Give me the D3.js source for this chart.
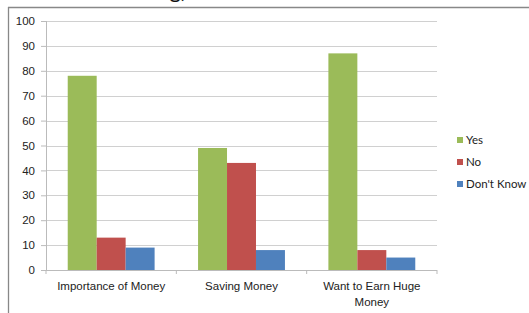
<!DOCTYPE html>
<html>
<head>
<meta charset="utf-8">
<script src="https://cdn.jsdelivr.net/npm/d3@7"></script>
<style>
  body { margin: 0; background: #fff; }
  svg { display: block; font-family: Lato, "Open Sans", sans-serif; }
  .axis text { font-size: 11.5px; fill: #222; }
  .axis path, .axis line { stroke: #bbb; }
</style>
</head>
<body>
<div id="chart"></div>
<script>
// data
var categories = ["Importance of Money", "Saving Money", "Want to Earn Huge Money"];
var seriesNames = ["Yes", "No", "Don't Know"];
var yesValues = [78, 49, 87];
var noValues = [13, 43, 8];
var dontKnowValues = [9, 8, 5];
var yTicks = [0, 10, 20, 30, 40, 50, 60, 70, 80, 90, 100];
var colors = ["#9BBB59", "#C0504D", "#4F81BD"];

var series = [yesValues, noValues, dontKnowValues];

var pwidth = 529, pheight = 313;
var margin = {top: 21, right: 92, bottom: 43, left: 46};
var width = 437 - margin.left,
    height = 270 - margin.top;

var svg = d3.select("#chart").append("svg")
  .attr("width", pwidth)
  .attr("height", pheight);

// cut off title remains and outer frame
svg.append("text")
  .attr("x", 172).attr("y", -2)
  .attr("text-anchor", "middle")
  .style("font-size", "22px")
  .attr("fill", "#111")
  .text("ng)");

svg.append("line")
  .attr("x1", 8).attr("x2", pwidth)
  .attr("y1", 7.5).attr("y2", 7.5)
  .attr("stroke", "#888").attr("stroke-width", 1.3);
svg.append("line")
  .attr("x1", 8.5).attr("x2", 8.5)
  .attr("y1", 7).attr("y2", pheight)
  .attr("stroke", "#888").attr("stroke-width", 1.3);

var g = svg.append("g")
  .attr("transform", "translate(" + margin.left + "," + margin.top + ")");

var x0 = d3.scaleBand()
  .domain(categories)
  .range([0, width])
  .paddingInner(0)
  .paddingOuter(0);

var x1 = d3.scaleBand()
  .domain(seriesNames)
  .range([x0.bandwidth() * 0.1667, x0.bandwidth() * 0.8333]);

var y = d3.scaleLinear()
  .domain([0, 100])
  .range([height, 0]);

// gridlines
g.selectAll(".grid")
  .data(yTicks.slice(1))
  .enter().append("line")
  .attr("class", "grid")
  .attr("x1", 0).attr("x2", width)
  .attr("y1", function(d) { return Math.round(y(d)) + 0.5; })
  .attr("y2", function(d) { return Math.round(y(d)) + 0.5; })
  .attr("stroke", "#d0d0d0");

// bars
var groups = g.selectAll(".cat")
  .data(categories)
  .enter().append("g")
  .attr("transform", function(d) { return "translate(" + x0(d) + ",0)"; });

groups.selectAll("rect")
  .data(function(d, i) {
    return seriesNames.map(function(s, j) { return {s: s, v: series[j][i], c: colors[j]}; });
  })
  .enter().append("rect")
  .attr("x", function(d) { return x1(d.s); })
  .attr("width", x1.bandwidth())
  .attr("y", function(d) { return y(d.v); })
  .attr("height", function(d) { return height - y(d.v); })
  .attr("fill", function(d) { return d.c; });

// y axis
var yAxis = g.append("g")
  .attr("class", "axis")
  .call(d3.axisLeft(y).tickValues(yTicks).tickSize(5).tickPadding(6));
yAxis.select(".domain").attr("d", "M0.5,0V" + height);

// x axis
var xAxis = g.append("g")
  .attr("class", "axis")
  .attr("transform", "translate(0," + height + ")")
  .call(d3.axisBottom(x0).tickSize(0).tickPadding(12));
xAxis.select(".domain").attr("d", "M0,0.5H" + width);

// category tick marks on the boundaries
xAxis.selectAll(".bound")
  .data(d3.range(categories.length + 1))
  .enter().append("line")
  .attr("x1", function(d) { return d * x0.bandwidth(); })
  .attr("x2", function(d) { return d * x0.bandwidth(); })
  .attr("y1", 0).attr("y2", 4)
  .attr("stroke", "#bbb");

// wrap long labels
xAxis.selectAll(".tick text").each(function(d) {
  if (d.length > 20) {
    var t = d3.select(this);
    var parts = ["Want to Earn Huge", "Money"];
    var dy = t.attr("dy");
    t.text(null);
    parts.forEach(function(p, i) {
      t.append("tspan").attr("x", 0).attr("dy", i === 0 ? dy : "1.35em").text(p);
    });
  }
});

// legend
var legend = svg.append("g")
  .attr("transform", "translate(457,135)");
var items = legend.selectAll(".item")
  .data(seriesNames)
  .enter().append("g")
  .attr("transform", function(d, i) { return "translate(0," + i * 22 + ")"; });
items.append("rect")
  .attr("width", 6).attr("height", 6)
  .attr("y", 2)
  .attr("fill", function(d, i) { return colors[i]; });
items.append("text")
  .attr("x", 9).attr("y", 9)
  .style("font-size", "11.5px")
  .attr("fill", "#222")
  .text(function(d) { return d; });
</script>
</body>
</html>
